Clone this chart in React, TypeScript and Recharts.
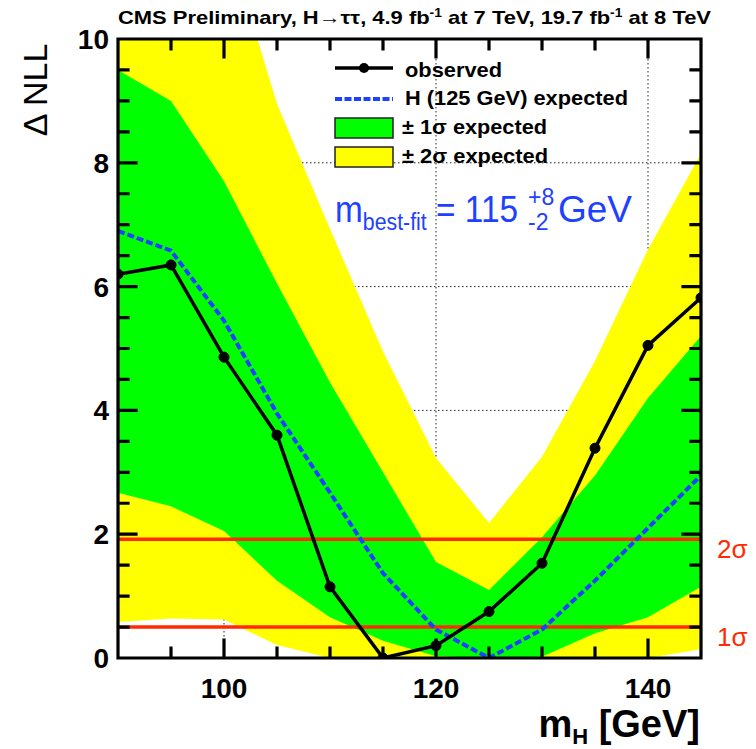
import React from 'react';
import { ComposedChart, Area, Line, XAxis, YAxis, CartesianGrid, ReferenceLine } from 'recharts';

// ---- data ----
const masses = [90, 95, 100, 105, 110, 115, 120, 125, 130, 135, 140, 145];
const observed = [6.2, 6.35, 4.86, 3.6, 1.15, 0.0, 0.2, 0.75, 1.53, 3.39, 5.05, 5.82];
const expected = [6.9, 6.58, 5.45, 3.95, 2.67, 1.37, 0.46, 0.0, 0.46, 1.25, 2.1, 2.95];
const sigma1Low = [2.67, 2.45, 2.05, 1.25, 0.66, 0.28, 0.03, 0.0, 0.02, 0.4, 0.66, 1.15];
const sigma1High = [9.5, 9.0, 7.7, 6.05, 4.45, 3.0, 1.55, 1.1, 1.95, 2.95, 4.2, 5.2];
const sigma2Low = [0.58, 0.64, 0.62, 0.21, 0.0, 0.0, 0.0, 0.0, 0.0, 0.0, 0.0, 0.14];
const sigma2High = [13.0, 12.5, 11.8, 8.95, 6.93, 4.95, 3.23, 2.18, 3.25, 4.8, 6.6, 8.15];

const xDomain = [90, 145];
const yDomain = [0, 10];
const xTicks = [90, 95, 100, 105, 110, 115, 120, 125, 130, 135, 140, 145];
const xMajor = [100, 120, 140];
const yTicks = [0, 0.5, 1, 1.5, 2, 2.5, 3, 3.5, 4, 4.5, 5, 5.5, 6, 6.5, 7, 7.5, 8, 8.5, 9, 9.5, 10];
const yMajor = [0, 2, 4, 6, 8, 10];
const gridX = [100, 120, 140];
const gridY = [2, 4, 6, 8];
const sigmaLevels = [
  { value: 0.5, label: '1σ' },
  { value: 1.92, label: '2σ' },
];

const data = masses.map((m, i) => ({
  m,
  obs: observed[i],
  exp: expected[i],
  s1: [sigma1Low[i], sigma1High[i]],
  s2: [sigma2Low[i], sigma2High[i]],
}));

const W = 756;
const H = 749;
const PLOT = { top: 39, right: 55, bottom: 91, left: 118 };
const PW = W - PLOT.left - PLOT.right;
const PH = H - PLOT.top - PLOT.bottom;
const fx = (v: number) => PLOT.left + ((v - xDomain[0]) / (xDomain[1] - xDomain[0])) * PW;
const fy = (v: number) => PLOT.top + PH - ((v - yDomain[0]) / (yDomain[1] - yDomain[0])) * PH;
const TICK_MAJOR = 18;
const TICK_MINOR = 10;

const FONT = '"Liberation Sans", Arial, Helvetica, sans-serif';
const RED = '#ff2a00';
const BLUE = '#1e40ff';
const GREEN = '#00ff00';
const YELLOW = '#ffff00';

const BottomLabel = (props: any) => {
  const { x, y, payload } = props;
  if (!xMajor.includes(payload.value)) return <g />;
  return (
    <text x={x} y={y + 40} textAnchor="middle" fontFamily={FONT} fontWeight="bold" fontSize={28} fill="#000">
      {payload.value}
    </text>
  );
};

const LeftLabel = (props: any) => {
  const { x, y, payload } = props;
  if (!yMajor.includes(payload.value)) return <g />;
  return (
    <text x={x - 9} y={y} dy="0.36em" textAnchor="end" fontFamily={FONT} fontWeight="bold" fontSize={28} fill="#000">
      {payload.value}
    </text>
  );
};

const sigmaLabel = (text: string) => (props: any) => {
  const vb = props.viewBox || {};
  return (
    <text x={(vb.x || 0) + (vb.width || 0) + 16} y={(vb.y || 0) + 19} fill={RED} fontFamily={FONT} fontSize={26}>
      {text}
    </text>
  );
};

// build the frame + inward tick path (ROOT style, on all four sides)
const buildFramePath = () => {
  const parts: string[] = [];
  const x0 = fx(xDomain[0]);
  const x1 = fx(xDomain[1]);
  const y0 = fy(yDomain[0]);
  const y1 = fy(yDomain[1]);
  parts.push(`M${x0} ${y1}H${x1}V${y0}H${x0}Z`);
  xTicks.forEach((v) => {
    const len = xMajor.includes(v) ? TICK_MAJOR : TICK_MINOR;
    parts.push(`M${fx(v)} ${y0}V${y0 - len}`);
    parts.push(`M${fx(v)} ${y1}V${y1 + len}`);
  });
  yTicks.forEach((v) => {
    const len = yMajor.includes(v) ? TICK_MAJOR : TICK_MINOR;
    parts.push(`M${x0} ${fy(v)}H${x0 + len}`);
    parts.push(`M${x1} ${fy(v)}H${x1 - len}`);
  });
  return parts.join('');
};
const framePath = buildFramePath();

export default function App() {
  return (
    <div style={{ position: 'absolute', left: 0, top: 0, width: W, height: H, background: '#fff' }}>
      <div style={{ position: 'absolute', left: 0, top: 0 }}>
        <ComposedChart width={W} height={H} data={data} margin={PLOT}>
          <CartesianGrid xAxisId="g" yAxisId="g" stroke="#222" strokeWidth={1} strokeDasharray="1.5 2.5" />
          <Area type="linear" dataKey="s2" stroke="none" fill={YELLOW} fillOpacity={1} isAnimationActive={false} dot={false} activeDot={false} />
          <Area type="linear" dataKey="s1" stroke="none" fill={GREEN} fillOpacity={1} isAnimationActive={false} dot={false} activeDot={false} />
          <XAxis dataKey="m" type="number" domain={xDomain} allowDataOverflow height={0} hide />
          <YAxis type="number" domain={yDomain} allowDataOverflow width={0} hide />
          <XAxis xAxisId="g" dataKey="m" type="number" domain={xDomain} allowDataOverflow ticks={gridX} interval={0} height={0} hide />
          <YAxis yAxisId="g" type="number" domain={yDomain} allowDataOverflow ticks={gridY} interval={0} width={0} hide />
        </ComposedChart>
      </div>
      <div style={{ position: 'absolute', left: 0, top: 0 }}>
        <ComposedChart width={W} height={H} data={data} margin={{ top: PLOT.top, right: PLOT.right, bottom: 0, left: 0 }}>
          {sigmaLevels.map((s) => (
            <ReferenceLine key={s.label} y={s.value} stroke={RED} strokeWidth={3.5} label={sigmaLabel(s.label)} />
          ))}
          <Line type="linear" dataKey="exp" stroke={BLUE} strokeWidth={4} strokeDasharray="7 3" dot={false} activeDot={false} isAnimationActive={false} />
          <Line
            type="linear"
            dataKey="obs"
            stroke="#000"
            strokeWidth={3.5}
            dot={{ r: 5, fill: '#000', stroke: '#000', strokeWidth: 1 }}
            activeDot={false}
            isAnimationActive={false}
          />
          <XAxis
            dataKey="m"
            type="number"
            domain={xDomain}
            allowDataOverflow
            ticks={xTicks}
            interval={0}
            orientation="bottom"
            height={PLOT.bottom}
            tickSize={0}
            tickMargin={0}
            tickLine={false}
            axisLine={false}
            tick={<BottomLabel />}
          />
          <YAxis
            type="number"
            domain={yDomain}
            allowDataOverflow
            ticks={yTicks}
            interval={0}
            orientation="left"
            width={PLOT.left}
            tickSize={0}
            tickMargin={0}
            tickLine={false}
            axisLine={false}
            tick={<LeftLabel />}
          />
        </ComposedChart>
      </div>
      <svg width={W} height={H} style={{ position: 'absolute', left: 0, top: 0, pointerEvents: 'none' }}>
        <path d={framePath} fill="none" stroke="#000000" strokeWidth={3.2} strokeLinecap="square" />
        <text x={118} y={24} fontFamily={FONT} fontWeight="bold" fontSize={19} fill="#000" textLength={593} lengthAdjust="spacingAndGlyphs">
          CMS Preliminary, H→ττ, 4.9 fb
          <tspan dy={-7} fontSize={12}>-1</tspan>
          <tspan dy={7}> at 7 TeV, 19.7 fb</tspan>
          <tspan dy={-7} fontSize={12}>-1</tspan>
          <tspan dy={7}> at 8 TeV</tspan>
        </text>
        <text x={47} y={90} transform="rotate(-90 47 90)" textAnchor="middle" fontFamily={FONT} fontSize={34} fill="#000">
          Δ NLL
        </text>
        <text x={700} y={737} textAnchor="end" fontFamily={FONT} fontWeight="bold" fontSize={38} fill="#000">
          m<tspan fontSize={22} dy={7}>H</tspan>
          <tspan dy={-7}> [GeV]</tspan>
        </text>
        <line x1={335} y1={68} x2={393} y2={68} stroke="#000" strokeWidth={3.5} />
        <circle cx={364} cy={68} r={5} fill="#000" />
        <text x={405} y={76.5} fontFamily={FONT} fontWeight="bold" fontSize={21} textLength={97} lengthAdjust="spacingAndGlyphs">observed</text>
        <line x1={335} y1={99} x2={393} y2={99} stroke={BLUE} strokeWidth={4} strokeDasharray="7 2.5" />
        <text x={405} y={105} fontFamily={FONT} fontWeight="bold" fontSize={21} textLength={223} lengthAdjust="spacingAndGlyphs">H (125 GeV) expected</text>
        <rect x={335} y={118} width={58} height={20} fill={GREEN} stroke="#222" strokeWidth={1.5} />
        <text x={402} y={133.5} fontFamily={FONT} fontWeight="bold" fontSize={21} textLength={145} lengthAdjust="spacingAndGlyphs">± 1σ expected</text>
        <rect x={335} y={147} width={58} height={20} fill={YELLOW} stroke="#222" strokeWidth={1.5} />
        <text x={402} y={162.5} fontFamily={FONT} fontWeight="bold" fontSize={21} textLength={146} lengthAdjust="spacingAndGlyphs">± 2σ expected</text>
        <text x={335} y={222} fontFamily={FONT} fontSize={36} fill={BLUE} textLength={183} lengthAdjust="spacingAndGlyphs">
          m<tspan fontSize={23} dy={8}>best-fit</tspan>
          <tspan dy={-8}> = 115</tspan>
        </text>
        <text x={528} y={205} fontFamily={FONT} fontSize={23} fill={BLUE}>+8</text>
        <text x={528} y={230} fontFamily={FONT} fontSize={23} fill={BLUE}>-2</text>
        <text x={558} y={222} fontFamily={FONT} fontSize={36} fill={BLUE} textLength={74} lengthAdjust="spacingAndGlyphs">GeV</text>
      </svg>
    </div>
  );
}
